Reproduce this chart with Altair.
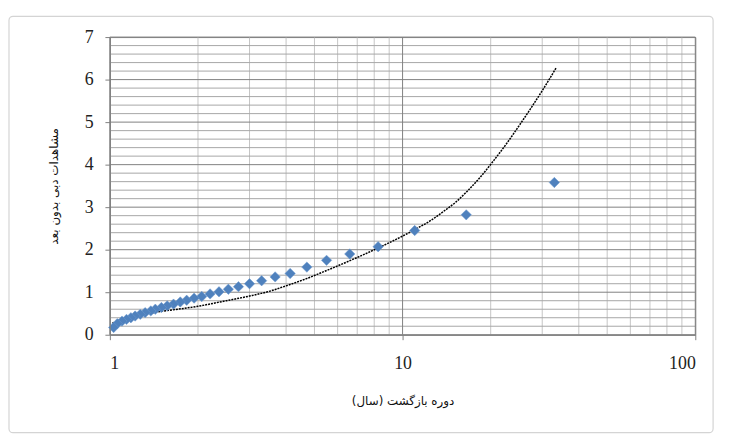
import altair as alt
import pandas as pd

# Observed points (Weibull return periods) and dimensionless discharge
return_period = [33.0, 16.5, 11.0, 8.25, 6.6, 5.5, 4.71, 4.13, 3.67, 3.3, 3.0, 2.75,
                 2.54, 2.36, 2.2, 2.06, 1.94, 1.83, 1.74, 1.65, 1.57, 1.5, 1.43, 1.38,
                 1.32, 1.27, 1.22, 1.18, 1.14, 1.1, 1.06, 1.03]
observed = [3.58, 2.82, 2.45, 2.07, 1.9, 1.75, 1.59, 1.44, 1.36, 1.27, 1.2, 1.13,
            1.07, 1.01, 0.96, 0.9, 0.86, 0.81, 0.77, 0.72, 0.68, 0.64, 0.6, 0.56,
            0.52, 0.48, 0.44, 0.4, 0.36, 0.32, 0.26, 0.17]

# Fitted curve
curve_T = [1.02, 1.1, 1.2, 1.35, 1.5, 1.75, 2.0, 2.5, 3.0, 3.5, 4.0, 4.7, 5.5, 6.7,
           8.25, 10.0, 11.2, 12.5, 13.8, 15.2, 16.6, 18.5, 20.5, 22.8, 25.2, 27.7,
           30.2, 33.5]
curve_y = [0.27, 0.37, 0.43, 0.5, 0.55, 0.61, 0.67, 0.8, 0.91, 1.02, 1.15, 1.32, 1.51,
           1.76, 2.04, 2.32, 2.5, 2.69, 2.9, 3.12, 3.37, 3.72, 4.1, 4.52, 4.95, 5.37,
           5.77, 6.28]

# Axis ticks and grid positions
x_major = [1, 10, 100]
x_minor = [2, 3, 4, 5, 6, 7, 8, 9, 20, 30, 40, 50, 60, 70, 80, 90]
y_major = [0, 1, 2, 3, 4, 5, 6, 7]
y_minor = [0.2, 0.4, 0.6, 0.8, 1.2, 1.4, 1.6, 1.8, 2.2, 2.4, 2.6, 2.8, 3.2, 3.4, 3.6,
           3.8, 4.2, 4.4, 4.6, 4.8, 5.2, 5.4, 5.6, 5.8, 6.2, 6.4, 6.6, 6.8]

x_title = "دوره بازگشت (سال)"
y_title = "مشاهدات دبی بدون بعد"

xscale = alt.Scale(type="log", domain=[1, 100], nice=False)
yscale = alt.Scale(domain=[0, 7], nice=False, zero=False)

pts = pd.DataFrame({"T": return_period, "Q": observed})
crv = pd.DataFrame({"T": curve_T, "Q": curve_y})

frame = alt.Chart(pd.DataFrame({"a": [0]})).mark_rect(
    fillOpacity=0, stroke="#d4d4d4", strokeWidth=1.2, cornerRadius=4
).encode(x=alt.value(-102), x2=alt.value(610), y=alt.value(-21), y2=alt.value(400))

ygrid_minor = alt.Chart(pd.DataFrame({"v": y_minor})).mark_rule(
    color="#a6a6a6", strokeWidth=1
).encode(y=alt.Y("v:Q", scale=yscale))

xgrid_minor = alt.Chart(pd.DataFrame({"v": x_minor})).mark_rule(
    color="#c4c4c4", strokeWidth=1
).encode(x=alt.X("v:Q", scale=xscale))

ygrid_major = alt.Chart(pd.DataFrame({"v": y_major})).mark_rule(
    color="#7f7f7f", strokeWidth=1
).encode(y=alt.Y("v:Q", scale=yscale))

xgrid_major = alt.Chart(pd.DataFrame({"v": x_major})).mark_rule(
    color="#7f7f7f", strokeWidth=1
).encode(x=alt.X("v:Q", scale=xscale))

line = alt.Chart(crv).mark_line(
    color="black", strokeWidth=1.5, strokeDash=[2, 1], interpolate="monotone"
).encode(
    x=alt.X("T:Q", scale=xscale),
    y=alt.Y("Q:Q", scale=yscale),
)

points = alt.Chart(pts).mark_point(
    shape="diamond", filled=True, size=110, color="#4F81BD", opacity=1,
    stroke="#6f9bd1", strokeWidth=0.5
).encode(
    x=alt.X("T:Q", scale=xscale,
            axis=alt.Axis(values=x_major, title=x_title, format="d", grid=False,
                          tickSize=5, labelPadding=15, titlePadding=24,
                          labelFont="Liberation Serif", labelFontSize=18,
                          labelColor="#222", titleFont="DejaVu Sans",
                          titleFontSize=12, titleFontWeight="normal",
                          titleColor="#111", domainColor="#7f7f7f",
                          tickColor="#7f7f7f", zindex=1)),
    y=alt.Y("Q:Q", scale=yscale,
            axis=alt.Axis(values=y_major, title=y_title, format="d", grid=False,
                          tickSize=5, labelPadding=12, titlePadding=24,
                          labelFont="Liberation Serif", labelFontSize=18,
                          labelColor="#222", titleFont="DejaVu Sans",
                          titleFontSize=12, titleFontWeight="normal",
                          titleColor="#111", domainColor="#7f7f7f",
                          tickColor="#7f7f7f", zindex=1)),
)

chart = alt.layer(
    frame, xgrid_minor, ygrid_minor, xgrid_major, ygrid_major, line, points
).properties(
    width=592, height=301,
    autosize=alt.AutoSizeParams(type="none"),
    padding={"left": 103, "top": 27, "right": 26, "bottom": 100},
    background="white",
).configure_view(stroke="#7f7f7f")

chart.save("out.html", embed_options={"renderer": "svg", "actions": False})
